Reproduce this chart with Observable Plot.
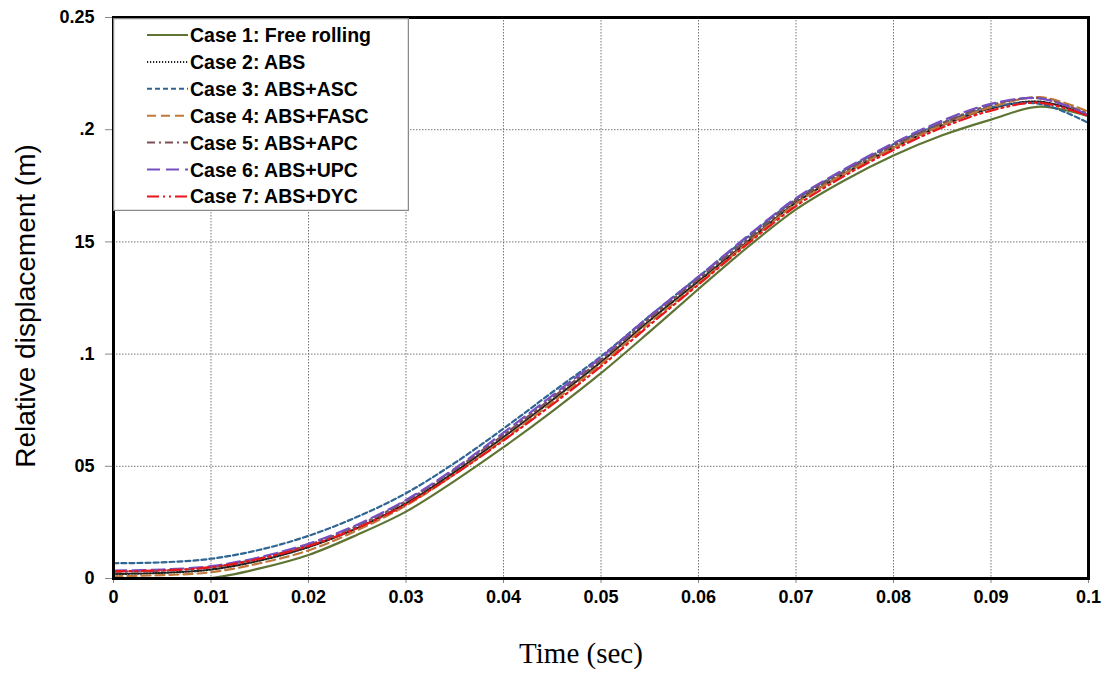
<!DOCTYPE html>
<html><head><meta charset="utf-8">
<script src="https://cdn.jsdelivr.net/npm/d3@7"></script>
<script src="https://cdn.jsdelivr.net/npm/@observablehq/plot@0.6"></script>
<style>
body{margin:0;background:#fff;}
#wrap{position:relative;width:1107px;height:682px;}
#legend{position:absolute;left:113px;top:18px;}
</style></head><body><div id="wrap"></div>
<script>
const time = [0,0.005,0.01,0.015,0.02,0.025,0.03,0.035,0.04,0.045,0.05,0.055,0.06,0.065,0.07,0.075,0.08,0.085,0.09,0.095,0.1];
const case1 = [0,0,0.0002,0.0045,0.0105,0.0195,0.0298,0.0435,0.0585,0.0745,0.0915,0.1100,0.1290,0.1475,0.1645,0.1775,0.1885,0.1975,0.2045,0.2103,0.2060];
const case2 = [0.002,0.0025,0.004,0.008,0.014,0.0225,0.0335,0.0475,0.0630,0.0795,0.0965,0.1150,0.1325,0.1500,0.1675,0.1805,0.1920,0.2020,0.2095,0.2125,0.2065];
const case3 = [0.0068,0.0072,0.0088,0.0128,0.0190,0.0275,0.0380,0.0515,0.0668,0.0830,0.0990,0.1170,0.1345,0.1520,0.1690,0.1820,0.1935,0.2030,0.2100,0.2115,0.2030];
const case4 = [0.001,0.0015,0.0028,0.0068,0.0125,0.0215,0.0325,0.0465,0.0620,0.0785,0.0955,0.1140,0.1315,0.1495,0.1670,0.1805,0.1920,0.2020,0.2100,0.2145,0.2080];
const case5 = [0.003,0.0035,0.005,0.009,0.015,0.0235,0.0345,0.0485,0.0640,0.0805,0.0975,0.1160,0.1335,0.1510,0.1685,0.1815,0.1930,0.2030,0.2110,0.2140,0.2070];
const case6 = [0.0035,0.004,0.0055,0.0095,0.0155,0.024,0.035,0.049,0.065,0.0815,0.0985,0.117,0.1345,0.1525,0.1695,0.1825,0.1940,0.2040,0.2115,0.2140,0.2065];
const case7 = [0.0032,0.0036,0.005,0.0088,0.0145,0.0225,0.0330,0.0465,0.0615,0.0775,0.0945,0.1130,0.1310,0.1490,0.1660,0.1795,0.1910,0.2010,0.2085,0.2120,0.2060];

const seriesNames = ["Case 1: Free rolling","Case 2: ABS","Case 3: ABS+ASC","Case 4: ABS+FASC","Case 5: ABS+APC","Case 6: ABS+UPC","Case 7: ABS+DYC"];
const seriesValues = [case1,case2,case3,case4,case5,case6,case7];
const seriesColors = ["#5f7433","#222222","#2f6592","#c0783a","#7a5158","#7650c0","#e8151a"];
const seriesDash = [null,"1.2,1.8","5,3","9,5","8,4,2,4","13,6","12,4,2,4,2,4"];

const xTicks = [0,0.01,0.02,0.03,0.04,0.05,0.06,0.07,0.08,0.09,0.1];
const xTickLabels = ["0","0.01","0.02","0.03","0.04","0.05","0.06","0.07","0.08","0.09","0.1"];
const yTicks = [0,0.05,0.1,0.15,0.2,0.25];
const yTickLabels = ["0","05",".1","15",".2","0.25"];
const xLabel = "Time (sec)";
const yLabel = "Relative displacement (m)";

const lineMarks = seriesValues.map((vals, i) => {
  const rows = time.map((t, j) => ({t, v: vals[j]}));
  return Plot.line(rows, {x: "t", y: "v", stroke: seriesColors[i], strokeWidth: 2.2,
    strokeDasharray: seriesDash[i] || undefined, curve: "catmull-rom"});
});

const chart = Plot.plot({
  width: 1107, height: 682,
  marginLeft: 113, marginRight: 19, marginTop: 17, marginBottom: 104,
  x: {domain: [0, 0.1]},
  y: {domain: [0, 0.25]},
  style: {fontFamily: "'Liberation Sans', Arial, sans-serif", background: "white", color: "black"},
  marks: [
    Plot.gridX(xTicks, {stroke: "#777", strokeOpacity: 1, strokeDasharray: "1.5,1.5"}),
    Plot.gridY(yTicks, {stroke: "#777", strokeOpacity: 1, strokeDasharray: "1.5,1.5"}),
    Plot.axisX(xTicks, {tickFormat: d => xTickLabels[xTicks.indexOf(d)], tickSize: 5, tickPadding: 7,
      fontWeight: "bold", fontSize: 18, stroke: "#888", label: null}),
    Plot.axisY(yTicks, {tickFormat: d => yTickLabels[yTicks.indexOf(d)], tickSize: 8, tickPadding: 11,
      fontWeight: "bold", fontSize: 18, stroke: "#888", label: null}),
    ...lineMarks,
    Plot.frame({stroke: "black", strokeWidth: 3}),
    Plot.text([yLabel], {text: d => d, frameAnchor: "left", textAnchor: "middle", rotate: -90, dx: -87, dy: 8,
      fontSize: 28, fill: "black"}),
    Plot.text([xLabel], {text: d => d, frameAnchor: "bottom", textAnchor: "middle", dx: -20, dy: 84,
      fontSize: 29, fontFamily: "'Liberation Serif', 'Times New Roman', serif", fill: "black"})
  ]
});
const wrap = document.getElementById("wrap");
wrap.appendChild(chart);

// legend overlay
const lw = 296, lh = 193, rowH = 26.9;
const leg = d3.select(wrap).append("svg").attr("id", "legend").attr("width", lw).attr("height", lh);
leg.append("rect").attr("x", 0.5).attr("y", 0.5).attr("width", lw - 1).attr("height", lh - 1)
  .attr("fill", "white").attr("stroke", "#8a8a8a").attr("stroke-width", 1.5);
seriesNames.forEach((name, i) => {
  const y = 17 + i * rowH;
  leg.append("line").attr("x1", 34).attr("x2", 75).attr("y1", y).attr("y2", y)
    .attr("stroke", seriesColors[i]).attr("stroke-width", 2)
    .attr("stroke-dasharray", seriesDash[i]);
  leg.append("text").attr("x", 77).attr("y", y).attr("dy", "0.36em")
    .attr("font-family", "'Liberation Sans', Arial, sans-serif").attr("font-weight", "bold")
    .attr("font-size", 19.5).attr("fill", "black").text(name);
});
</script></body></html>
